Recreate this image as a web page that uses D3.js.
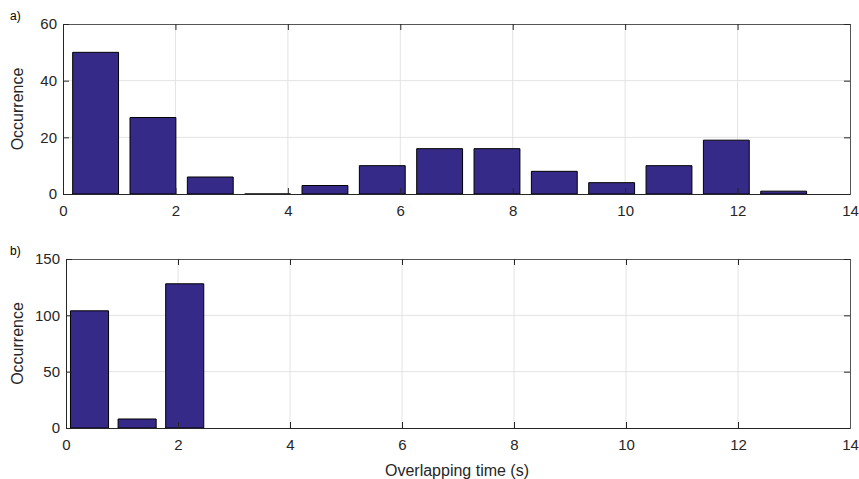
<!DOCTYPE html>
<html>
<head>
<meta charset="utf-8">
<script src="https://cdn.jsdelivr.net/npm/d3@7"></script>
<style>
  html, body { margin: 0; padding: 0; background: #fff; }
  svg { display: block; font-family: "Liberation Sans", Arial, Helvetica, sans-serif; }
</style>
</head>
<body>
<svg id="chart" width="859" height="479"></svg>
<script>
// Panel a) histogram: bin centres (s) and counts
const binsA = [0.58, 1.60, 2.62, 3.64, 4.66, 5.68, 6.70, 7.72, 8.74, 9.76, 10.78, 11.80, 12.82];
const countsA = [50, 27, 6, 0, 3, 10, 16, 16, 8, 4, 10, 19, 1];
const binWidthA = 1.02;

// Panel b) histogram
const binsB = [0.42, 1.27, 2.12];
const countsB = [104, 8, 128];
const binWidthB = 0.85;

const xTicks = [0, 2, 4, 6, 8, 10, 12, 14];
const yTicksA = [0, 20, 40, 60];
const yTicksB = [0, 50, 100, 150];

const svg = d3.select("#chart");
const axisColor = "#262626";
const gridColor = "#e3e3e3";
const barColor = "#352a87";

function panel(opts) {
  const { left, right, top, bottom, bins, counts, binWidth, yMax, yTicks, tag } = opts;
  const x = d3.scaleLinear().domain([0, 14]).range([left, right]);
  const y = d3.scaleLinear().domain([0, yMax]).range([bottom, top]);
  const g = svg.append("g");

  // grid
  g.selectAll(".gx").data(xTicks.slice(1, -1)).join("line")
    .attr("x1", d => x(d)).attr("x2", d => x(d))
    .attr("y1", top).attr("y2", bottom)
    .attr("stroke", gridColor).attr("stroke-width", 1);
  g.selectAll(".gy").data(yTicks.slice(1, -1)).join("line")
    .attr("x1", left).attr("x2", right)
    .attr("y1", d => y(d)).attr("y2", d => y(d))
    .attr("stroke", gridColor).attr("stroke-width", 1);

  // bars (80% of bin width); drawn as closed paths so empty bins still show an outline
  const w = binWidth * 0.8;
  g.selectAll(".bar").data(bins.map((c, i) => ({ c, v: counts[i] }))).join("path")
    .attr("d", d => {
      const x0 = x(d.c - w / 2), x1 = x(d.c + w / 2), y0 = y(0), y1 = y(d.v);
      return `M${x0},${y0}V${y1}H${x1}V${y0}Z`;
    })
    .attr("fill", barColor)
    .attr("stroke", "#000")
    .attr("stroke-width", 1);

  // axes: ticks pointing inward, box on
  const tl = 6;
  const xb = g.append("g").attr("transform", `translate(0,${bottom})`)
    .call(d3.axisBottom(x).tickValues(xTicks).tickSize(-tl).tickPadding(11).tickFormat(d3.format("d")));
  const xt = g.append("g").attr("transform", `translate(0,${top})`)
    .call(d3.axisTop(x).tickValues(xTicks).tickSize(-tl).tickFormat(""));
  const yl = g.append("g").attr("transform", `translate(${left},0)`)
    .call(d3.axisLeft(y).tickValues(yTicks).tickSize(-tl).tickPadding(6).tickFormat(d3.format("d")));
  const yr = g.append("g").attr("transform", `translate(${right},0)`)
    .call(d3.axisRight(y).tickValues(yTicks).tickSize(-tl).tickFormat(""));

  [xb, xt, yl, yr].forEach(a => {
    a.select(".domain").attr("stroke", axisColor).attr("stroke-width", 1);
    a.selectAll(".tick line").attr("stroke", axisColor);
    a.selectAll("text").attr("fill", axisColor).attr("font-size", 15)
      .attr("font-family", "Liberation Sans, Arial, sans-serif");
  });
  xt.select(".domain").attr("stroke", "#555");
  yr.select(".domain").attr("stroke", "#555");

  // y label
  g.append("text")
    .attr("transform", `translate(23,${(top + bottom) / 2}) rotate(-90)`)
    .attr("text-anchor", "middle")
    .attr("font-size", 16).attr("fill", axisColor)
    .text("Occurrence");

  // panel tag
  g.append("text")
    .attr("x", 10).attr("y", top - 4)
    .attr("font-size", 12).attr("fill", "#000")
    .text(tag);
}

panel({ left: 63, right: 850, top: 24, bottom: 194,
        bins: binsA, counts: countsA, binWidth: binWidthA,
        yMax: 60, yTicks: yTicksA, tag: "a)" });
panel({ left: 66, right: 850, top: 259, bottom: 428,
        bins: binsB, counts: countsB, binWidth: binWidthB,
        yMax: 150, yTicks: yTicksB, tag: "b)" });

// shared x label
svg.append("text")
  .attr("x", 457).attr("y", 476)
  .attr("text-anchor", "middle")
  .attr("font-size", 16).attr("fill", "#262626")
  .text("Overlapping time (s)");
</script>
</body>
</html>
